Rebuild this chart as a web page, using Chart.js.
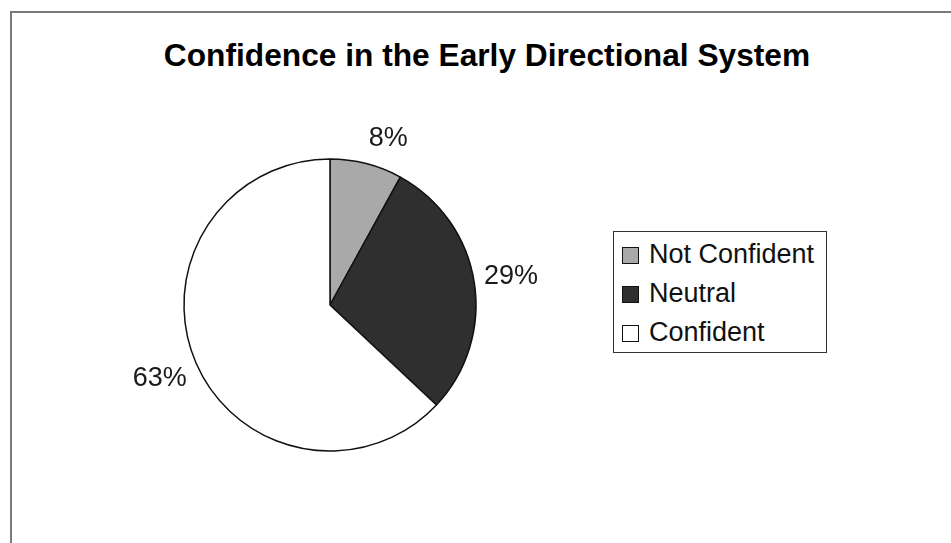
<!DOCTYPE html>
<html>
<head>
<meta charset="utf-8">
<title>Confidence in the Early Directional System</title>
<script src="https://cdn.jsdelivr.net/npm/chart.js@4.4.1/dist/chart.umd.min.js"></script>
<style>
  html, body { margin: 0; padding: 0; background: #fff; }
  #wrap { position: relative; width: 951px; height: 543px; overflow: hidden; }
  /* рамка области диаграммы (видны только верх и левый край) */
  #frame {
    position: absolute; left: 10px; top: 11px; width: 1000px; height: 600px;
    border-left: 2px solid #7a7a7a; border-top: 2px solid #7a7a7a;
  }
  #chart-title {
    position: absolute; left: 87px; top: 35px; width: 800px; text-align: center;
    font-family: "Liberation Sans", Arial, sans-serif; font-weight: bold;
    font-size: 31.7px; line-height: 40px; color: #000;
  }
  #chart-box { position: absolute; left: 0; top: 0; width: 951px; height: 543px; }
  #legend {
    position: absolute; left: 613px; top: 231px; width: 212px;
    padding: 3px 0 0 0; border: 1px solid #333; background: #fff;
    font-family: "Liberation Sans", Arial, sans-serif; font-size: 27px; color: #111;
  }
  #legend ul { list-style: none; margin: 0; padding: 0; }
  #legend li { height: 39px; line-height: 39px; padding-left: 8px; white-space: nowrap; }
  #legend .sw {
    display: inline-block; width: 15px; height: 15px; border: 1px solid #111;
    margin-right: 10px; vertical-align: -1px;
  }
</style>
</head>
<body>
<div id="wrap">
  <div id="frame"></div>
  <div id="chart-title">Confidence in the Early Directional System</div>
  <div id="chart-box"><canvas id="pie"></canvas></div>
  <div id="legend"></div>
</div>
<script>
const categories = ['Not Confident', 'Neutral', 'Confident'];
const shares = [8, 29, 63]; // %
const sliceColors = ['#a9a9a9', '#2f2f2f', '#ffffff'];

// подписи процентов снаружи круга
const pctLabels = {
    id: 'pctLabels',
    afterDatasetsDraw(chart) {
        const ctx = chart.ctx;
        const meta = chart.getDatasetMeta(0);
        ctx.save();
        ctx.font = '27px "Liberation Sans", Arial, sans-serif';
        ctx.fillStyle = '#1a1a1a';
        ctx.textAlign = 'center';
        ctx.textBaseline = 'middle';
        meta.data.forEach((arc, i) => {
            const p = arc.getProps(['x', 'y', 'startAngle', 'endAngle', 'outerRadius'], true);
            const mid = (p.startAngle + p.endAngle) / 2;
            const dx = Math.cos(mid), dy = Math.sin(mid);
            const text = shares[i] + '%';
            const halfW = ctx.measureText(text).width / 2;
            const r = p.outerRadius + 10;
            // текст прижат к кругу ближним краем
            const lx = p.x + dx * r + Math.sign(dx) * halfW;
            const ly = p.y + dy * (r + Math.abs(dx) * halfW + Math.abs(dy) * 11);
            ctx.fillText(text, lx, ly);
        });
        ctx.restore();
    }
};

const chart = new Chart(document.getElementById('pie'), {
    type: 'pie',
    data: {
        labels: categories,
        datasets: [{
            data: shares,
            backgroundColor: sliceColors,
            borderColor: '#111',
            borderWidth: 1.5,
            hoverOffset: 0,
            radius: 146
        }]
    },
    options: {
        responsive: true,
        maintainAspectRatio: false,
        animation: false,
        // центр круга: (330, 305)
        layout: { padding: { left: 0, right: 291, top: 67, bottom: 0 } },
        plugins: {
            legend: { display: false },
            tooltip: { enabled: false },
            title: { display: false }
        }
    },
    plugins: [pctLabels]
});

// легенда в рамке справа
function renderLegend() {
    const ul = document.createElement('ul');
    categories.forEach((name, i) => {
        const li = document.createElement('li');
        li.innerHTML = `<span class="sw" style="background:${sliceColors[i]}"></span>${name}`;
        ul.appendChild(li);
    });
    document.getElementById('legend').appendChild(ul);
}
renderLegend();
</script>
</body>
</html>
